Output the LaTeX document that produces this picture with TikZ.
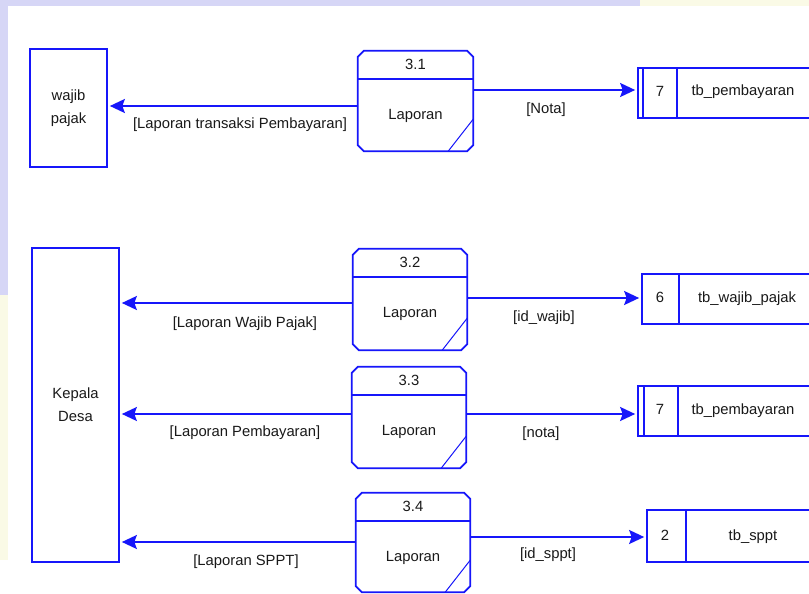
\documentclass[tikz,border=0pt]{standalone}
\usepackage{fontspec}
\setmainfont{Liberation Sans}
\usetikzlibrary{arrows.meta,calc}

\definecolor{dfdblue}{RGB}{22,22,250}
\definecolor{inktext}{RGB}{25,25,25}
\definecolor{bglav}{RGB}{214,214,246}
\definecolor{bgcream}{RGB}{250,250,230}

% process bubble: chamfered box with id strip and folded corner
% #1 name, #2 centre x, #3 centre y, #4 width, #5 height, #6 id
\newcommand\dfdprocess[6]{%
  \node[ghost, minimum width=#4pt, minimum height=#5pt] (#1) at (#2,#3) {};
  \draw[box]
    ($(#1.north west)+(6,0)$) -- ($(#1.north east)+(-6,0)$) --
    ($(#1.north east)+(0,6)$) -- ($(#1.south east)+(0,-6)$) --
    ($(#1.south east)+(-6,0)$) -- ($(#1.south west)+(6,0)$) --
    ($(#1.south west)+(0,-6)$) -- ($(#1.north west)+(0,6)$) -- cycle;
  \draw[box] ($(#1.north west)+(0,28)$) -- ($(#1.north east)+(0,28)$);
  \draw[thin] ($(#1.south east)+(-25,0)$) -- ($(#1.south east)+(0,-32)$);
  \node (#1id) at ($(#1.north)+(0,14)$) {#6};
  \node (#1txt) at ($(#1.north)+(0,65)$) {Laporan};
}

\begin{document}
\begin{tikzpicture}[x=1pt,y=-1pt,
  every node/.style={font=\fontsize{14.8}{17}\selectfont, text=inktext},
  box/.style={draw=dfdblue, line width=1.7pt, line join=miter},
  ghost/.style={inner sep=0pt, draw=none},
  thin/.style={draw=dfdblue, line width=1pt},
  flow/.style={draw=dfdblue, line width=1.8pt, shorten >=2pt,
    -{Stealth[length=15pt,width=14pt,inset=2.5pt]}},
  entity/.style={box, inner sep=0pt, align=center},
  lbl/.style={inner sep=1pt}]

\useasboundingbox (0,0) rectangle (809,594);
\clip (0,0) rectangle (809,594);

% page backdrop
\fill[white] (0,0) rectangle (809,594);
\fill[bglav] (0,0) rectangle (640,6);
\fill[bgcream] (640,0) rectangle (809,6);
\fill[bglav] (0,0) rectangle (8,295);
\fill[bgcream] (0,295) rectangle (8,560);

% external entities
\node[entity, minimum width=77pt, minimum height=118pt] (wp) at (68.5,108)
  {wajib\\[6pt]pajak};
\node[entity, minimum width=87pt, minimum height=314pt] (kd) at (75.5,405)
  {Kepala\\[6pt]Desa};

% processes
\dfdprocess{pa}{415.5}{101}{115}{100}{3.1}
\dfdprocess{pb}{410}{299.5}{114}{101}{3.2}
\dfdprocess{pc}{409}{417.5}{114}{101}{3.3}
\dfdprocess{pd}{413}{542.5}{114}{99}{3.4}

% data stores
\node[box, ghost, draw=dfdblue, minimum width=174pt, minimum height=50pt] (sa) at (725,93) {};
\draw[box] (643,68) -- (643,118);
\draw[box] (677,68) -- (677,118);
\node (sanum) at (660,91) {7};
\node (satxt) at (743,92) {tb\_pembayaran};

\node[box, ghost, draw=dfdblue, minimum width=170pt, minimum height=50pt] (sb) at (727,299) {};
\draw[box] (679,274) -- (679,324);
\node (sbnum) at (660,297) {6};
\node (sbtxt) at (747,299) {tb\_wajib\_pajak};

\node[box, ghost, draw=dfdblue, minimum width=174pt, minimum height=50pt] (sc) at (725,411) {};
\draw[box] (644,386) -- (644,436);
\draw[box] (678,386) -- (678,436);
\node (scnum) at (660,409) {7};
\node (sctxt) at (743,411) {tb\_pembayaran};

\node[box, ghost, draw=dfdblue, minimum width=165pt, minimum height=52pt] (sd) at (729.5,536) {};
\draw[box] (686,510) -- (686,562);
\node (sdnum) at (665,535) {2};
\node (sdtxt) at (753,537) {tb\_sppt};

% flow end points
\coordinate (fa1) at ([yshift=-5pt]pa.west);
\coordinate (fa2) at ([yshift=11pt]pa.east);
\coordinate (fb1) at ([yshift=-3.5pt]pb.west);
\coordinate (fb2) at ([yshift=1.5pt]pb.east);
\coordinate (fc1) at ([yshift=3.5pt]pc.west);
\coordinate (fc2) at ([yshift=3.5pt]pc.east);
\coordinate (fd1) at ([yshift=0.5pt]pd.west);
\coordinate (fd2) at ([yshift=5.5pt]pd.east);

% data flows
\draw[flow] (fa1) -- (fa1 -| wp.east);
\draw[flow] (fa2) -- (fa2 -| sa.west);
\draw[flow] (fb1) -- (fb1 -| kd.east);
\draw[flow] (fb2) -- (fb2 -| sb.west);
\draw[flow] (fc1) -- (fc1 -| kd.east);
\draw[flow] (fc2) -- (fc2 -| sc.west);
\draw[flow] (fd1) -- (fd1 -| kd.east);
\draw[flow] (fd2) -- (fd2 -| sd.west);

% flow labels
\node[lbl] (la1) at (240,125) {[Laporan transaksi Pembayaran]};
\node[lbl] (la2) at (546,110) {[Nota]};
\node[lbl] (lb1) at (245,324) {[Laporan Wajib Pajak]};
\node[lbl] (lb2) at (544,318) {[id\_wajib]};
\node[lbl] (lc1) at (245,433) {[Laporan Pembayaran]};
\node[lbl] (lc2) at (541,434) {[nota]};
\node[lbl] (ld1) at (246,562) {[Laporan SPPT]};
\node[lbl] (ld2) at (548,555) {[id\_sppt]};
\end{tikzpicture}
\end{document}
